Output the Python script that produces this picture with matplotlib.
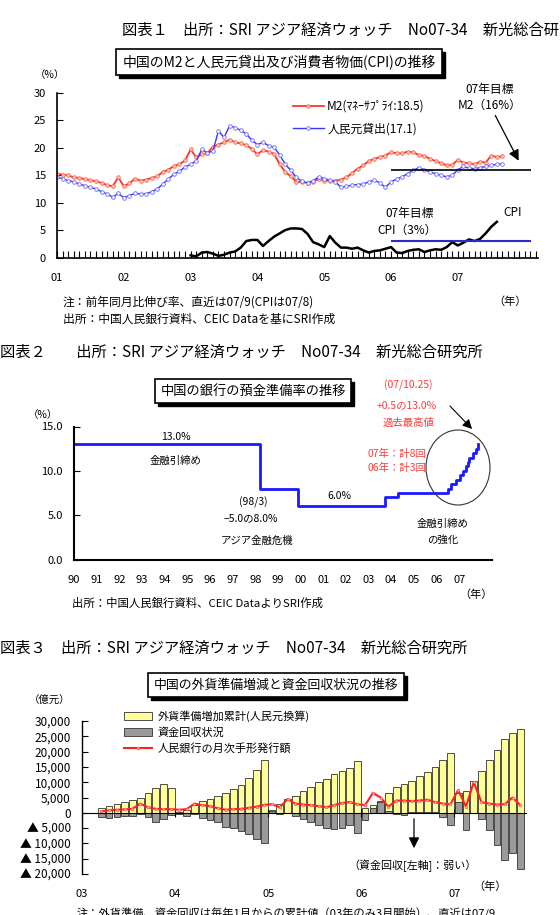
import numpy as np
import matplotlib
matplotlib.use('Agg')
import matplotlib.pyplot as plt
from matplotlib.patches import Ellipse, Rectangle, FancyArrowPatch
from matplotlib.ticker import FuncFormatter, MultipleLocator

plt.rcParams['font.family'] = ['Noto Sans CJK JP', 'DejaVu Sans']

# ---- data: chart 1 (monthly, yoy %) ----
m2 = [15.3, 15.1, 15.0, 14.6, 14.5, 14.3, 14.1, 13.9, 13.6, 13.2, 13.0, 14.6,
      13.0, 13.5, 14.4, 14.0, 14.2, 14.5, 14.8, 15.6, 16.0, 16.7, 17.0, 17.7,
      19.7, 18.3, 18.8, 19.0, 20.2, 20.6, 21.0, 21.5, 21.0, 20.8, 20.5, 19.8,
      18.8, 19.6, 19.3, 18.9, 17.0, 15.6, 14.8, 13.8, 13.8, 13.6, 13.8, 14.3,
      14.0, 14.0, 14.0, 14.2, 14.6, 15.4, 16.2, 16.8, 17.6, 18.0, 18.3, 18.6,
      19.2, 19.0, 19.0, 19.3, 19.2, 18.7, 18.5, 18.0, 17.6, 17.2, 16.8, 16.9,
      17.8, 17.3, 17.2, 17.0, 17.5, 17.3, 18.6, 18.3, 18.5]
loans = [14.6, 14.4, 14.0, 13.8, 13.4, 13.1, 12.8, 12.5, 12.0, 11.6, 11.0, 11.7,
         10.9, 11.3, 11.7, 11.6, 11.6, 12.0, 12.5, 13.4, 14.3, 15.2, 15.7, 16.5,
         17.0, 17.6, 19.7, 19.1, 19.4, 23.1, 21.9, 24.0, 23.7, 23.2, 22.5, 21.4,
         20.6, 21.0, 20.4, 20.1, 18.7, 17.0, 15.9, 14.6, 13.9, 13.6, 14.0, 14.7,
         14.4, 14.1, 13.8, 12.8, 13.0, 13.2, 13.3, 13.4, 13.8, 14.1, 13.6, 12.8,
         13.8, 14.3, 14.7, 15.3, 15.9, 16.4, 16.0, 15.6, 15.3, 15.0, 14.7, 15.0,
         16.0, 16.6, 16.3, 16.2, 16.4, 16.6, 16.8, 17.0, 17.1]
cpi = [0.4, 0.2, 0.9, 1.0, 0.7, 0.3, 0.5, 0.9, 1.1, 1.8, 3.0, 3.2,
       3.2, 2.1, 3.0, 3.8, 4.4, 5.0, 5.3, 5.3, 5.2, 4.3, 2.8, 2.4,
       1.9, 3.9, 2.7, 1.8, 1.8, 1.6, 1.8, 1.3, 0.9, 1.2, 1.3, 1.6,
       1.9, 0.9, 0.8, 1.2, 1.4, 1.5, 1.0, 1.3, 1.5, 1.4, 1.9, 2.8,
       2.2, 2.7, 3.3, 3.0, 3.4, 4.4, 5.6, 6.5]
m2_start, cpi_start = 2001, 2003
m2_target, cpi_target = 16, 3
target_span = (2006.0, 2008.1)
years1 = ['01', '02', '03', '04', '05', '06', '07']

# ---- data: chart 2 (reserve requirement ratio) ----
rr_dates = [1990.0, 1998.21, 1999.88, 2003.72, 2004.31, 2006.51, 2006.62, 2006.87,
            2007.04, 2007.15, 2007.29, 2007.37, 2007.43, 2007.62, 2007.73, 2007.81]
rr_rates = [13.0, 8.0, 6.0, 7.0, 7.5, 8.0, 8.5, 9.0,
            9.5, 10.0, 10.5, 11.0, 11.5, 12.0, 12.5, 13.0]
years2 = ['90', '91', '92', '93', '94', '95', '96', '97', '98', '99',
          '00', '01', '02', '03', '04', '05', '06', '07']

# ---- data: chart 3 (億元, monthly from 2003/3) ----
fx_reserve = [1500, 2300, 3000, 3600, 4200, 5000, 6600, 8100, 9400, 8200,
              300, 1000, 2500, 3800, 4500, 5500, 6500, 7800, 9200, 11500, 14000, 17100,
              800, 3000, 4500, 5500, 7000, 8500, 10000, 11200, 12600, 13800, 14600, 16800,
              1600, 2700, 3700, 6400, 8400, 9500, 10500, 12000, 13300, 14900, 17100, 19600,
              6500, 7000, 10500, 13800, 17300, 20500, 24000, 26000, 27500]
recovery = [-1500, -1800, -1500, -1200, -1000, -500, -1500, -3000, -2000, -600,
            -300, -1000, -500, -1800, -2500, -3000, -4500, -5000, -6000, -7000, -8500, -10000,
            500, -500, 0, -1000, -2000, -3000, -4000, -4900, -5200, -4900, -3900, -6600,
            -2500, 1500, 3500, 500, -400, -700, 200, 300, 400, 200, -1500, -4000,
            3500, -5500, 0, -2000, -5500, -10500, -15500, -13000, -18500]
bills = [500, 800, 1000, 1100, 1300, 3000, 1800, 1300, 1200, 1200,
         1000, 1200, 3000, 2500, 2200, 1500, 1000, 1200, 1300, 1600, 2000, 2600,
         2800, 1800, 4500, 3000, 2700, 2500, 2200, 1800, 2500, 3200, 3500, 2800,
         2500, 6500, 5000, 2000, 4000, 4000, 3800, 4000, 4300, 3500, 3000, 2800,
         7500, 2000, 10000, 3500, 3000, 2700, 2800, 5000, 2500]
years3 = ['03', '04', '05', '06', '07']

header = 'SRI アジア経済ウォッチ　No07-34　新光総合研究所'

W, H = 560, 915
fig = plt.figure(figsize=(W / 100, H / 100), dpi=100, facecolor='white')


def fx(x):
    return x / W


def fy(y):
    return 1 - y / H


def box(l, t, r, b):
    return [l / W, 1 - b / H, (r - l) / W, (b - t) / H]


def put(x, y, s, size=8, ha='left', **kw):
    return fig.text(fx(x), fy(y), s, fontsize=size, ha=ha, va='center', **kw)


titles = []


def title_box(x, y, s, size):
    t = fig.text(fx(x), fy(y), s, fontsize=size, ha='center', va='center', zorder=5,
                 bbox=dict(boxstyle='square,pad=0.42', fc='white', ec='black', lw=1.2))
    titles.append(t)


# ================= chart 1 =================
put(122, 30, '図表１　出所：' + header, size=11)
title_box(279, 62, '中国のM2と人民元貸出及び消費者物価(CPI)の推移', 10)
put(50, 75, '（%）', size=7.5, ha='center')

ax1 = fig.add_axes(box(57, 93, 538, 257.5))
t1 = m2_start + np.arange(len(m2)) / 12
tc = cpi_start + np.arange(len(cpi)) / 12
ax1.plot(t1, m2, color='#ff3030', lw=1.3, marker='o', ms=2.6, mfc='#ffc0b0', mec='#ff5a40', mew=0.5,
         label='M2(ﾏﾈｰｻﾌﾟﾗｲ:18.5)')
ax1.plot(t1, loans, color='#3535ff', lw=1.0, marker='o', ms=2.6, mfc='white', mec='#6a6aff', mew=0.6,
         label='人民元貸出(17.1)')
ax1.plot(tc, cpi, color='black', lw=1.8)
ax1.hlines(m2_target, *target_span, color='black', lw=1.2)
ax1.hlines(cpi_target, *target_span, color='#2a2ad0', lw=1.5)
ax1.set_xlim(2001, 2008.2)
ax1.set_ylim(0, 30)
for s in ['top', 'right']:
    ax1.spines[s].set_visible(False)
for s in ['left', 'bottom']:
    ax1.spines[s].set_linewidth(1.2)
ax1.set_yticks(range(0, 31, 5))
ax1.set_xticks(range(2001, 2008))
ax1.set_xticklabels(years1)
ax1.xaxis.set_minor_locator(MultipleLocator(1 / 12))
ax1.tick_params(axis='y', direction='in', length=4, labelsize=8, pad=8)
ax1.tick_params(axis='x', which='both', direction='in', length=5, width=0.8, labelsize=8, pad=11)
ax1.legend(loc='upper left', bbox_to_anchor=(fx(287), fy(94)), bbox_transform=fig.transFigure,
           frameon=False, fontsize=8.5, handlelength=2.6, labelspacing=0.8, borderpad=0,
           handletextpad=0.3)
put(490, 90, '07年目標', size=8.5, ha='center')
put(490, 105, 'M2（16%）', size=8.5, ha='center')
ax1.annotate('', xy=(2007.93, 17.2), xytext=(fx(494), fy(113)), textcoords='figure fraction',
             arrowprops=dict(arrowstyle='-|>', color='black', lw=0.9, mutation_scale=16))
put(410, 213, '07年目標', size=8.5, ha='center')
put(407, 230, 'CPI（3%）', size=8.5, ha='center')
put(513, 212, 'CPI', size=8.5, ha='center')
put(63, 302, '注：前年同月比伸び率、直近は07/9(CPIは07/8)', size=8.5)
put(63, 319, '出所：中国人民銀行資料、CEIC Dataを基にSRI作成', size=8.5)
put(510, 302, '（年）', size=8, ha='center')

# ================= chart 2 =================
put(0, 352, '図表２　　出所：' + header, size=11)
title_box(253, 391, '中国の銀行の預金準備率の推移', 9.5)
put(43, 415, '（%）', size=7.5, ha='center')

ax2 = fig.add_axes(box(74, 426.5, 492, 559.5))
ax2.plot(rr_dates, rr_rates, drawstyle='steps-post', color='#1a1aff', lw=2)
ax2.set_xlim(1990, 2008.45)
ax2.set_ylim(0, 15)
for s in ['top', 'right']:
    ax2.spines[s].set_visible(False)
for s in ['left', 'bottom']:
    ax2.spines[s].set_linewidth(1.5)
ax2.set_yticks([0, 5, 10, 15])
ax2.yaxis.set_major_formatter(FuncFormatter(lambda v, p: f'{v:.1f}'))
ax2.set_xticks(range(1990, 2008))
ax2.set_xticklabels(years2)
ax2.tick_params(axis='y', direction='in', length=4, labelsize=8, pad=8)
ax2.tick_params(axis='x', length=0, labelsize=8, pad=11)

put(176, 437, '13.0%', size=7.5, ha='center')
put(176, 461, '金融引締め', size=7.5, ha='center')
put(253, 502, '(98/3)', size=7.5, ha='center')
put(251, 518, '−5.0の8.0%', size=7.5, ha='center')
put(257, 541, 'アジア金融危機', size=7.5, ha='center')
put(339, 496, '6.0%', size=7.5, ha='center')
put(443, 524, '金融引締め', size=7.5, ha='center')
put(443, 540, 'の強化', size=7.5, ha='center')
red = '#ff3b3b'
put(408, 385, '(07/10.25)', size=7.5, ha='center', color=red)
put(407, 405, '+0.5の13.0%', size=7.5, ha='center', color=red)
put(409, 423, '過去最高値', size=7.5, ha='center', color=red)
put(397, 454, '07年：計8回', size=7.5, ha='center', color=red)
put(397, 468, '06年：計3回', size=7.5, ha='center', color=red)
fig.patches.append(Ellipse((fx(458), fy(467.5)), 64 / W, 75 / H, transform=fig.transFigure,
                           fill=False, ec='#333333', lw=0.8))
fig.patches.append(FancyArrowPatch((fx(448), fy(404)), (fx(474), fy(431)),
                                   transform=fig.transFigure, arrowstyle='-|>',
                                   mutation_scale=14, color='black', lw=0.8))
put(72, 603, '出所：中国人民銀行資料、CEIC DataよりSRI作成', size=8.2)
put(476, 595, '（年）', size=8, ha='center')

# ================= chart 3 =================
put(0, 648, '図表３　出所：' + header, size=11)
title_box(276, 685, '中国の外貨準備増減と資金回収状況の推移', 9.3)
put(50, 700, '（億元）', size=7.5, ha='center')

ax3 = fig.add_axes(box(82, 721, 526, 874))
tm = 2003 + (np.arange(len(fx_reserve)) + 2.5) / 12
b1 = ax3.bar(tm, fx_reserve, width=0.072, color='#ffff9a', edgecolor='#333333', lw=0.6,
             label='外貨準備増加累計(人民元換算)')
b2 = ax3.bar(tm, recovery, width=0.072, color='#9a9a9a', edgecolor='#333333', lw=0.6,
             label='資金回収状況')
l3, = ax3.plot(tm, bills, color='#ff2020', lw=1.5, marker='o', ms=2, mfc='#ffb0b0', mec='#ff4040',
               mew=0.4, label='人民銀行の月次手形発行額')
ax3.set_xlim(2003, 2007.77)
ax3.set_ylim(-20000, 30000)
for s in ['top', 'right']:
    ax3.spines[s].set_visible(False)
ax3.spines['bottom'].set_position(('data', 0))
ax3.spines['left'].set_linewidth(1.0)
ax3.set_yticks(range(-20000, 30001, 5000))
ax3.yaxis.set_major_formatter(FuncFormatter(
    lambda v, p: f'{v:,.0f}' if v >= 0 else f'▲ {abs(v):,.0f}'))
ax3.set_xticks(range(2003, 2008))
ax3.set_xticklabels(years3)
ax3.tick_params(axis='y', direction='in', length=4, labelsize=8.5, pad=8)
ax3.tick_params(axis='x', direction='inout', length=6, labelsize=8, pad=52)
ax3.legend(handles=[b1, b2, l3], loc='upper left', bbox_to_anchor=(fx(118), fy(705)),
           bbox_transform=fig.transFigure, frameon=False, fontsize=8, handlelength=2.6,
           handleheight=0.8, labelspacing=0.45, borderpad=0, handletextpad=0.5)
ax3.annotate('', xy=(fx(414), fy(851)), xytext=(fx(414), fy(816)), xycoords='figure fraction',
             arrowprops=dict(arrowstyle='-|>', color='black', lw=0.9, mutation_scale=16))
put(413, 866, '（資金回収[左軸]：弱い）', size=7.9, ha='center')
put(490, 887, '（年）', size=8, ha='center')
put(77, 914, '注：外貨準備、資金回収は毎年1月からの累計値（03年のみ3月開始）、直近は07/9', size=8.1)

# drop shadows behind the title boxes
fig.canvas.draw()
for t in titles:
    bb = t.get_bbox_patch().get_window_extent()
    fig.patches.append(Rectangle((bb.x0 + 3, bb.y0 - 3), bb.width, bb.height, transform=None,
                                 fc='black', ec='black', zorder=4))

fig.savefig('out.png', dpi=100)
